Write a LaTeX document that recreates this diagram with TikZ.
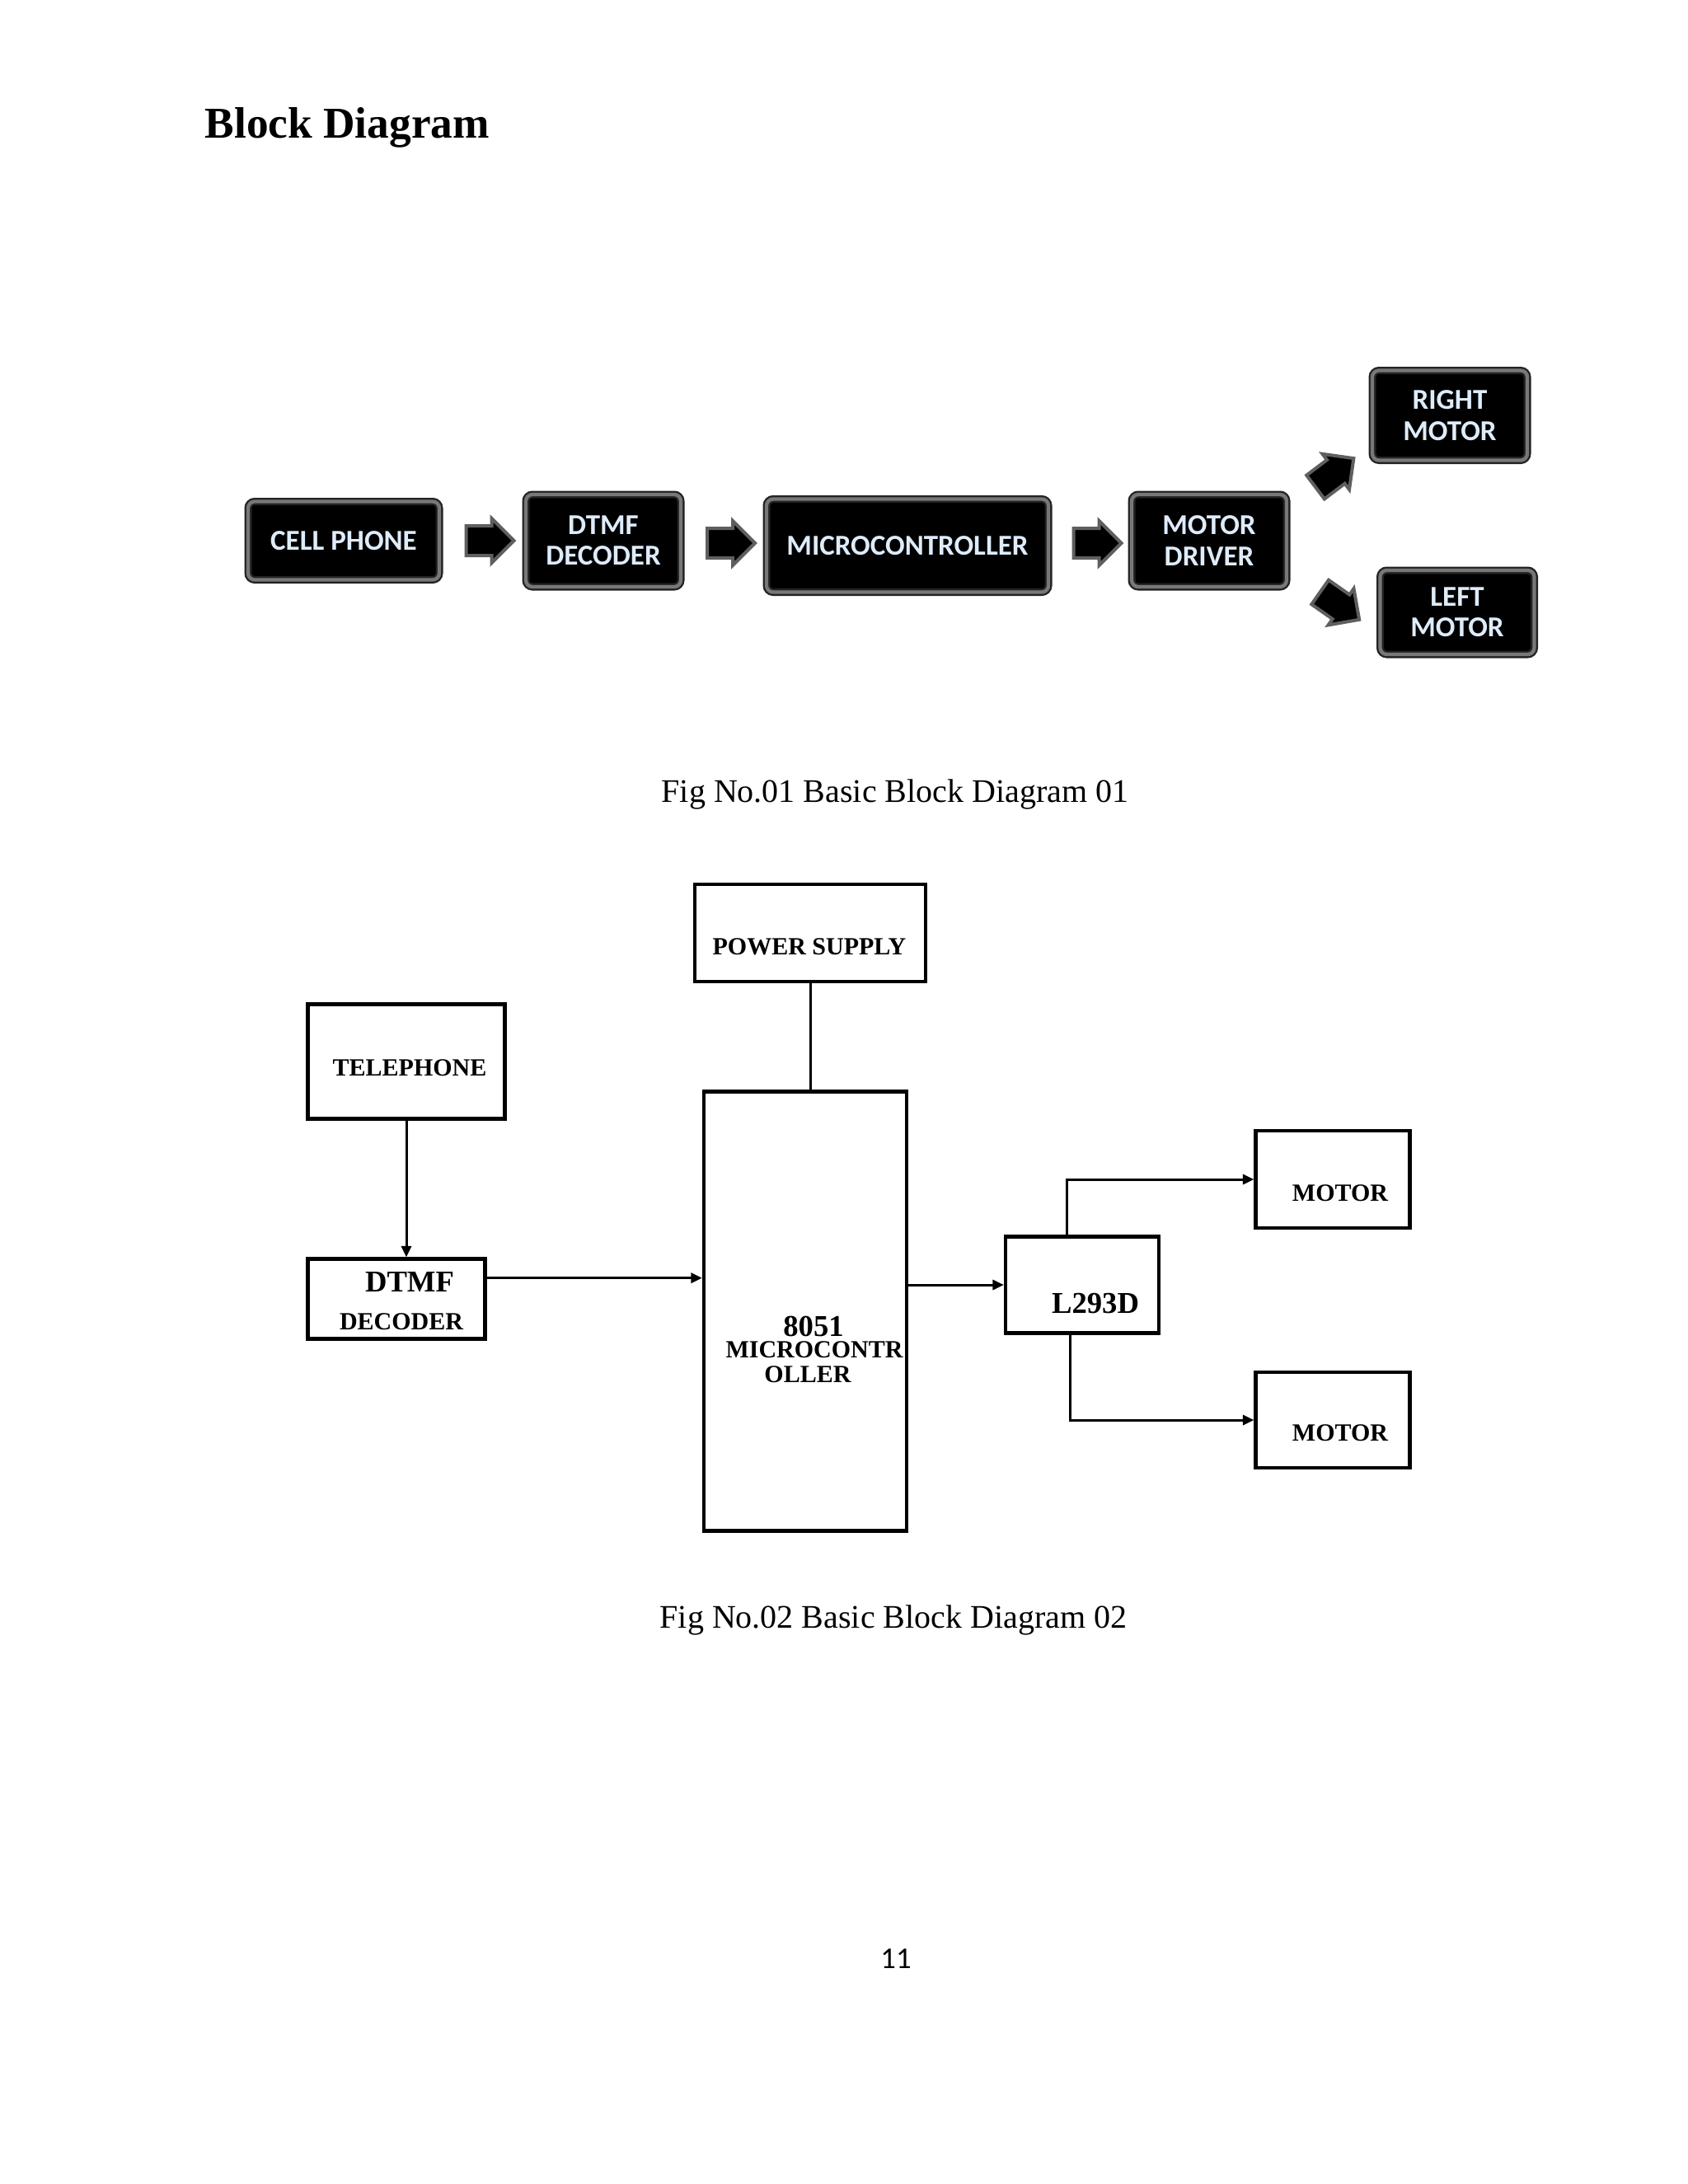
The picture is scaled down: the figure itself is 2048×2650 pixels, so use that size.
\documentclass[tikz,border=0pt]{standalone}
\usepackage{fontspec}
\setmainfont{Liberation Serif}
\newfontfamily\calibri{Carlito}
\usetikzlibrary{shapes.arrows}
\usetikzlibrary{arrows.meta}
\usetikzlibrary{calc}
\newlength\px
\setlength\px{0.2989bp}

\tikzset{
  glossy/.style={draw={rgb,255:red,35;green,35;blue,35}, double={rgb,255:red,120;green,120;blue,120}, double distance=1.3pt, line width=0.7pt, fill=black, rounded corners=8\px, inner sep=0pt, align=center, text={rgb,255:red,222;green,236;blue,250}, font=\calibri\bfseries\fontsize{10.5}{11.2}\selectfont},
  bigarrow/.style={single arrow, draw={rgb,255:red,95;green,95;blue,95}, line width=1.2pt, fill=black, inner xsep=0pt, inner ysep=16\px, single arrow head extend=9\px, minimum height=58\px, minimum width=0pt},
  blk/.style={draw, line width=1.3pt, inner sep=0pt},
  conn/.style={line width=0.9pt, -{Triangle[length=4bp,width=3.6bp]}},
  lbl/.style={font=\bfseries\fontsize{9}{9}\selectfont, inner sep=0pt},
  biglbl/.style={font=\bfseries\fontsize{11}{11}\selectfont, inner sep=0pt},
}

\begin{document}
\begin{tikzpicture}[x=0.2989bp,y=0.2989bp,yscale=-1]
%page
\fill[white] (0,0) rectangle (2048,2650);
\useasboundingbox (0,0) rectangle (2048,2650);

% Title
\node[anchor=base west, inner sep=0pt, font=\bfseries\fontsize{16}{19}\selectfont] (title) at (248,167) {Block Diagram};

%Diagram 01
\node[glossy, minimum width=232\px, minimum height=95\px] (cell) at (417,656) {CELL PHONE};
\node[glossy, minimum width=188\px, minimum height=112\px] (dtmf) at (732,656) {DTMF\\DECODER};
\node[glossy, minimum width=342\px, minimum height=113\px] (mcu) at (1101,662) {MICROCONTROLLER};
\node[glossy, minimum width=188\px, minimum height=112\px] (drv) at (1467,656) {MOTOR\\DRIVER};
\node[glossy, minimum width=188\px, minimum height=109\px] (rmot) at (1759,504) {RIGHT\\MOTOR};
\node[glossy, minimum width=187\px, minimum height=102\px] (lmot) at (1768,743) {LEFT\\MOTOR};
% block arrows
\node[bigarrow] (a1) at ($(cell.east)!0.5!(dtmf.west)$) {};
\node[bigarrow] (a2) at ($(dtmf.east)!0.5!(mcu.west)$) {};
\node[bigarrow] (a3) at ($(mcu.east)!0.5!(drv.west)$) {};
\node[bigarrow, rotate=37] (a4) at (1612,579) {};
\node[bigarrow, rotate=-35] (a5) at (1618,730) {};

% Text Node
\node[anchor=base, inner sep=0pt, font=\fontsize{12}{14}\selectfont] (cap1) at (1086,973) {Fig No.01 Basic Block Diagram 01};

%Diagram 02
\node[blk, minimum width=280\px, minimum height=118\px] (power) at (983,1132) {};
\node[blk, minimum width=239\px, minimum height=139\px] (tel) at (493,1288) {};
\node[blk, minimum width=215\px, minimum height=97\px] (dec) at (481,1576) {};
\node[blk, minimum width=246\px, minimum height=533\px] (chip) at (977,1591) {};
\node[blk, minimum width=186\px, minimum height=117\px] (l293) at (1313,1559) {};
\node[blk, minimum width=187\px, minimum height=118\px] (motA) at (1617,1431) {};
\node[blk, minimum width=187\px, minimum height=116\px] (motB) at (1617,1723) {};

% labels
\node[lbl] (powerT) at (982,1149) {POWER SUPPLY};
\node[lbl] (telT) at (497,1296) {TELEPHONE};
\node[biglbl] (decT1) at (497,1556) {DTMF};
\node[lbl] (decT2) at (487,1604) {DECODER};
\node[biglbl] (chipT1) at (987,1609) {8051};
\node[lbl] (chipT2) at (988,1638) {MICROCONTR};
\node[lbl] (chipT3) at (980,1668) {OLLER};
\node[biglbl] (l293T) at (1329,1582) {L293D};
\node[lbl] (motAT) at (1626,1448) {MOTOR};
\node[lbl] (motBT) at (1626,1739) {MOTOR};

% Connection
\coordinate (decout) at ($(dec.north east)!0.25!(dec.south east)$);
\coordinate (upout) at ([xshift=-19\px]l293.north);
\coordinate (dnout) at ([xshift=-15\px]l293.south);
\draw[line width=0.9pt] (power.south) -- (power.south |- chip.north);
\draw[conn] (tel.south) -- (tel.south |- dec.north);
\draw[conn] (decout) -- (decout -| chip.west);
\draw[conn] (chip.east |- l293.west) -- (l293.west);
\draw[conn] (upout) |- (motA.west);
\draw[conn] (dnout) |- (motB.west);

% Text Node
\node[anchor=base, inner sep=0pt, font=\fontsize{12}{14}\selectfont] (cap2) at (1084,1975) {Fig No.02 Basic Block Diagram 02};
\node[anchor=base, inner sep=0pt, font=\calibri\fontsize{11}{13}\selectfont] (pg) at (1087,2388) {11};

\end{tikzpicture}
\end{document}
